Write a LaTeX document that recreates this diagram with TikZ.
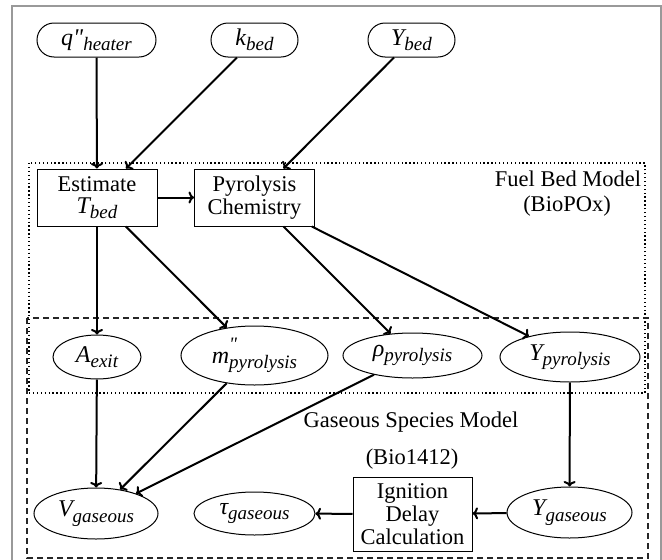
\documentclass[tikz,border=0pt]{standalone}
\usepackage{fontspec}
\setmainfont{Liberation Serif}
\newfontfamily\rawserif{Liberation Serif}
\usetikzlibrary{shapes.geometric,arrows.meta}
\newcommand\mbase[1]{{\fontsize{24}{26}\selectfont\itshape #1}}
\newcommand\msub[1]{\raisebox{-5.5pt}{\fontsize{19}{20}\selectfont\itshape #1}}
\newcommand\vb[2]{\mbase{#1}\msub{#2}}
\newcommand\dprime[1]{{\rawserif\fontsize{#1}{#1}\selectfont\itshape\char34}}
\begin{document}
\begin{tikzpicture}[x=1pt,y=-1pt,
  every node/.style={font=\fontsize{22.5}{23}\selectfont},
  topnode/.style={draw, line width=1pt, rounded corners=17pt, minimum height=34pt, inner sep=0pt},
  procbox/.style={draw, line width=1pt, minimum width=120pt, minimum height=57pt, inner sep=0pt, align=center},
  var/.style={draw, ellipse, line width=1pt, inner sep=0pt},
  lbl/.style={inner sep=0pt},
  conn/.style={line width=2pt, -{To[length=5.5pt,width=12pt]}},
  frame/.style={draw=black!40, line width=1.2pt},
  bedbox/.style={line width=1.3pt, dash pattern=on 1.3pt off 2.6pt},
  gasbox/.style={line width=1.3pt, dash pattern=on 6pt off 4pt, draw=black!85}]
\useasboundingbox (0,0) rectangle (662,560);
\draw[frame] (12,570) -- (12,6) -- (661,6) -- (661,570);
\draw[bedbox] (29,163) rectangle (645,393);
\draw[gasbox] (27,318) rectangle (648,558);

\node[topnode, minimum width=119pt] (qh) at (96.5,40) {\mbase{q}\dprime{24}\msub{heater}};
\node[topnode, minimum width=87pt] (kb) at (254.5,40) {\vb{k}{bed}};
\node[topnode, minimum width=87pt] (yb) at (411.5,40) {\vb{Y}{bed}};

\node[procbox] (est) at (97,197.5) {Estimate\\[-1pt]\vb{T}{bed}};
\node[procbox] (pyr) at (254.5,197.5) {Pyrolysis\\Chemistry};

\node[var, minimum width=88pt, minimum height=44pt] (aex) at (97,357) {\vb{A}{exit}};
\node[var, minimum width=147pt, minimum height=59pt] (mp) at (254.5,355.5)
  {\mbase{m}\rlap{\raisebox{12.5pt}{\dprime{19}}}\msub{pyrolysis}};
\node[var, minimum width=139pt, minimum height=45pt] (rho) at (412.5,355.5) {\vb{ρ}{pyrolysis}};
\node[var, minimum width=140pt, minimum height=50pt] (ypy) at (570,357) {\vb{Y}{pyrolysis}};

\node[var, minimum width=124pt, minimum height=51pt] (vg) at (96,513.5) {\vb{V}{gaseous}};
\node[var, minimum width=121pt, minimum height=43pt] (tg) at (254.5,513.5) {\vb{τ}{gaseous}};
\node[procbox, minimum width=119pt, minimum height=74pt] (ign) at (412.5,514) {Ignition\\Delay\\Calculation};
\node[var, minimum width=125pt, minimum height=51pt] (yg) at (569.5,512.5) {\vb{Y}{gaseous}};

\node[lbl] (fbm) at (568,179) {Fuel Bed Model};
\node[lbl] (bpx) at (567,206) {(BioPOx)};
\node[lbl] (gsm) at (411,422) {Gaseous Species Model};
\node[lbl] (bio) at (412,459) {(Bio1412)};

\draw[conn] (qh) -- (est);
\draw[conn] (kb) -- (est);
\draw[conn] (yb) -- (pyr);
\draw[conn] (est) -- (pyr);
\draw[conn] (est) -- (aex);
\draw[conn] (est) -- (mp);
\draw[conn] (pyr) -- (rho);
\draw[conn] (pyr) -- (ypy);
\draw[conn] (aex) -- (vg);
\draw[conn] (mp) -- (vg);
\draw[conn] (rho) -- (vg);
\draw[conn] (ypy) -- (yg);
\draw[conn] (yg) -- (ign);
\draw[conn] (ign) -- (tg);
\end{tikzpicture}
\end{document}
